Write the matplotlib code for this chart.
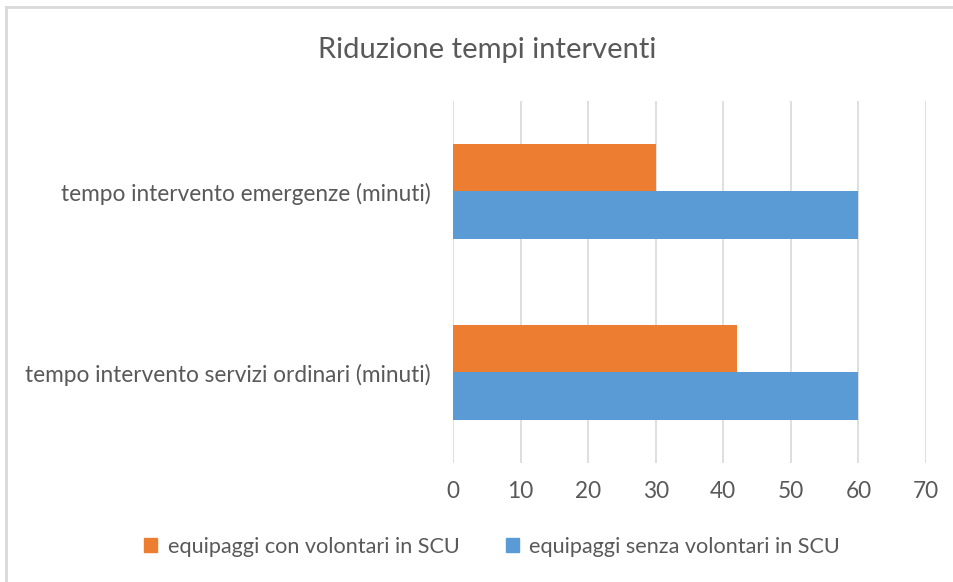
import matplotlib
matplotlib.use('Agg')
import matplotlib.pyplot as plt
from matplotlib.patches import Patch
from matplotlib.lines import Line2D

categories = ['tempo intervento servizi ordinari (minuti)',
              'tempo intervento emergenze (minuti)']
con_volontari = [42, 30]
senza_volontari = [60, 60]
series_names = ['equipaggi con volontari in SCU', 'equipaggi senza volontari in SCU']
xticks = [0, 10, 20, 30, 40, 50, 60, 70]

orange = '#ED7D31'
blue = '#5B9BD5'
text_col = '#595959'

plt.rcParams['font.family'] = ['Lato', 'DejaVu Sans']

fig = plt.figure(figsize=(9.54, 5.82), dpi=100)
ax = fig.add_axes([0.4748, 0.2045, 0.4958, 0.622])

# chart frame (only left/top visible in the screenshot)
fig.add_artist(Line2D([6/954, 6/954], [0, 1 - 7/582], color='#D9D9D9', lw=2))
fig.add_artist(Line2D([6/954, 1], [1 - 7/582, 1 - 7/582], color='#D9D9D9', lw=2))

h = 0.26
pos = list(range(len(categories)))
ax.barh([p + h/2 for p in pos], con_volontari, height=h, color=orange, zorder=3)
ax.barh([p - h/2 for p in pos], senza_volontari, height=h, color=blue, zorder=3)

ax.set_xlim(0, 70)
ax.set_ylim(-0.5, 1.5)
ax.set_xticks(xticks)
ax.set_yticks(pos)
ax.set_yticklabels(categories)
ax.grid(axis='x', color='#D9D9D9', lw=1.2, zorder=0)
for s in ax.spines.values():
    s.set_visible(False)
ax.tick_params(length=0, labelsize=16.3, colors=text_col)
ax.tick_params(axis='y', pad=16)
ax.tick_params(axis='x', pad=13)

fig.text(0.511, 1 - 50/582, 'Riduzione tempi interventi', ha='center', va='center',
         fontsize=21, color=text_col)

handles = [Patch(color=orange), Patch(color=blue)]
fig.legend(handles, series_names, loc='center', bbox_to_anchor=(0.516, 1 - 547/582),
           ncol=2, frameon=False, fontsize=15.6, labelcolor=text_col,
           handlelength=0.6, handleheight=0.6, handletextpad=0.5, columnspacing=2.1)

fig.savefig('out.png', dpi=100, facecolor='white')
